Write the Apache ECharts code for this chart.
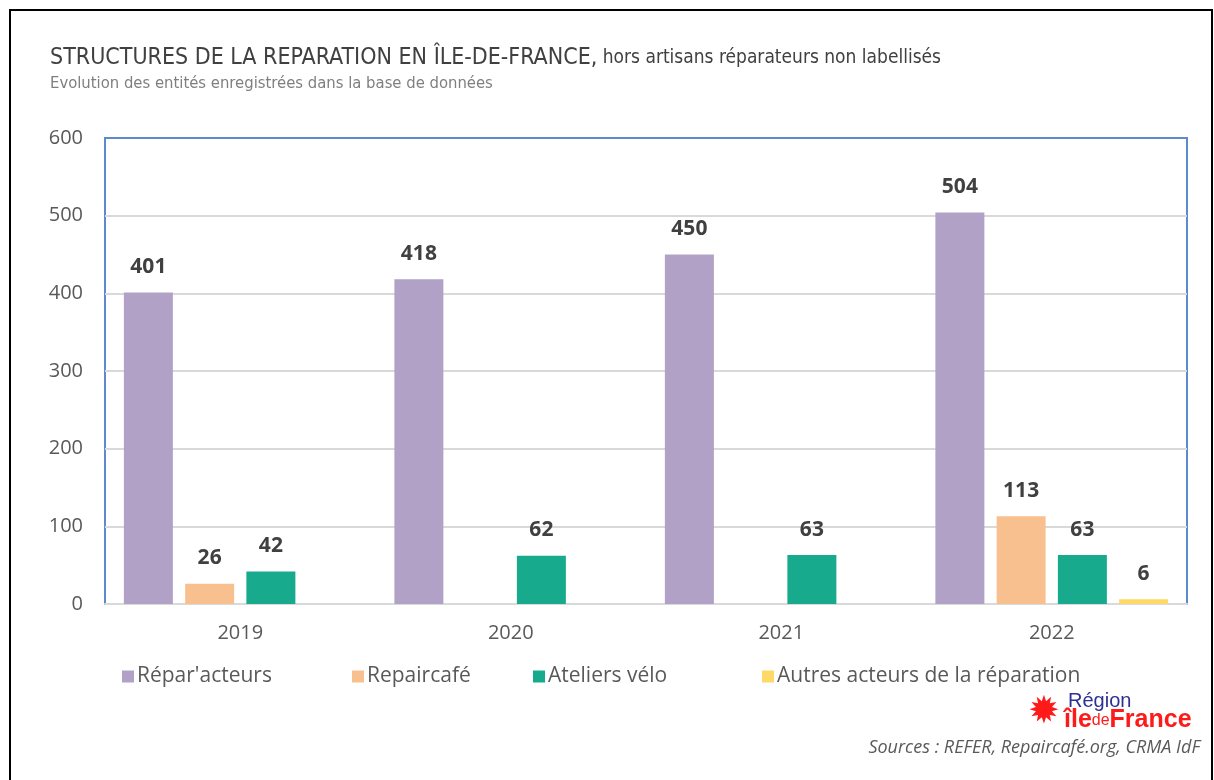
<!DOCTYPE html>
<html>
<head>
<meta charset="utf-8">
<title>Structures de la réparation en Île-de-France</title>
<script src="https://cdn.jsdelivr.net/npm/echarts@6/dist/echarts.min.js"></script>
<style>
  html, body { margin: 0; padding: 0; background: #fff; }
  #chart { width: 1214px; height: 780px; }
</style>
</head>
<body>
<div id="chart"></div>
<script>
// années
const years = ['2019', '2020', '2021', '2022']

// valeurs par type de structure (null = pas de barre)
const reparActeurs = [401, 418, 450, 504]
const repairCafe = [26, null, null, 113]
const ateliersVelo = [42, 62, 63, 63]
const autresActeurs = [null, null, null, 6]

const seriesNames = ["Répar'acteurs", 'Repaircafé', 'Ateliers vélo', 'Autres acteurs de la réparation']
const Colors = ['#B1A1C7', '#F9C08F', '#17AA8C', '#FFD966']

const yTicks = { min: 0, max: 600, interval: 100 }

const textGray = '#595959'
const labelFont = 'Open Sans, Noto Sans, sans-serif'
const narrowFont = 'Liberation Sans Narrow, DejaVu Sans Condensed, sans-serif'

const chart = echarts.init(document.getElementById('chart'))

const dataLists = [reparActeurs, repairCafe, ateliersVelo, autresActeurs]

const series = dataLists.map((list, i) => ({
  name: seriesNames[i],
  type: 'bar',
  barWidth: 49,
  barGap: '25%',
  itemStyle: { color: Colors[i] },
  label: {
    show: true,
    position: 'top',
    distance: 15,
    color: '#404040',
    fontWeight: 'bold',
    fontFamily: labelFont,
    fontSize: 21
  },
  data: list
}))

// une légende par élément pour caler les positions
const legendLefts = [117, 347, 528, 757]
const legends = seriesNames.map((name, i) => ({
  data: [name],
  left: legendLefts[i],
  top: 661,
  icon: 'rect',
  itemWidth: 12,
  itemHeight: 12,
  itemGap: 0,
  textStyle: {
    color: textGray,
    fontFamily: labelFont,
    fontSize: 21,
    padding: [0, 0, 0, -2]
  },
  selectedMode: false
}))

chart.setOption({
  animation: false,
  title: {
    left: 45,
    top: 42,
    text: '{a|STRUCTURES DE LA REPARATION EN ÎLE-DE-FRANCE,}{b| hors artisans réparateurs non labellisés}',
    subtext: 'Evolution des entités enregistrées dans la base de données',
    itemGap: 5,
    textStyle: {
      fontWeight: 'normal',
      rich: {
        a: {
          fontFamily: narrowFont,
          fontWeight: 'normal',
          fontSize: 23,
          color: '#404040'
        },
        b: {
          fontFamily: narrowFont,
          fontWeight: 'normal',
          fontSize: 19,
          color: '#404040'
        }
      }
    },
    subtextStyle: {
      fontFamily: narrowFont,
      fontSize: 16.5,
      color: '#7F7F7F'
    }
  },
  legend: legends,
  grid: {
    left: 105,
    right: 27,
    top: 138,
    bottom: 176,
    show: true,
    borderColor: '#5B8BCB',
    borderWidth: 2
  },
  xAxis: {
    type: 'category',
    data: years,
    axisTick: { show: false },
    axisLine: { lineStyle: { color: '#D9D9D9', width: 2 } },
    axisLabel: {
      color: textGray,
      fontFamily: labelFont,
      fontSize: 20,
      margin: 19
    }
  },
  yAxis: {
    type: 'value',
    min: yTicks.min,
    max: yTicks.max,
    interval: yTicks.interval,
    axisLine: { show: false },
    axisTick: { show: false },
    splitLine: {
      showMaxLine: false,
      showMinLine: false,
      lineStyle: { color: '#D9D9D9', width: 2 }
    },
    axisLabel: {
      color: textGray,
      fontFamily: labelFont,
      fontSize: 20,
      margin: 22
    }
  },
  graphic: [
    {
      type: 'rect',
      shape: { x: 10, y: 10, width: 1202, height: 800 },
      style: { fill: 'none', stroke: '#000', lineWidth: 2 },
      silent: true
    },
    {
      type: 'text',
      left: 1028,
      top: 694,
      style: {
        text: '✹',
        fill: '#FF1A1A',
        font: '38px DejaVu Sans'
      }
    },
    {
      type: 'text',
      left: 1068,
      top: 691,
      style: {
        text: 'Région',
        fill: '#2E3192',
        font: '20px Liberation Sans, sans-serif'
      }
    },
    {
      type: 'text',
      left: 1064,
      top: 708,
      style: {
        text: '{a|île}{b|de}{a|France}',
        rich: {
          a: { fill: '#FF1A1A', font: 'bold 25px Liberation Sans, sans-serif' },
          b: { fill: '#FF1A1A', font: '16px Liberation Sans, sans-serif' }
        }
      }
    },
    {
      type: 'text',
      right: 14,
      top: 739,
      style: {
        text: 'Sources : REFER, Repaircafé.org, CRMA IdF',
        fill: textGray,
        font: 'italic 18px Open Sans, sans-serif'
      }
    }
  ],
  series: series
})
</script>
</body>
</html>
